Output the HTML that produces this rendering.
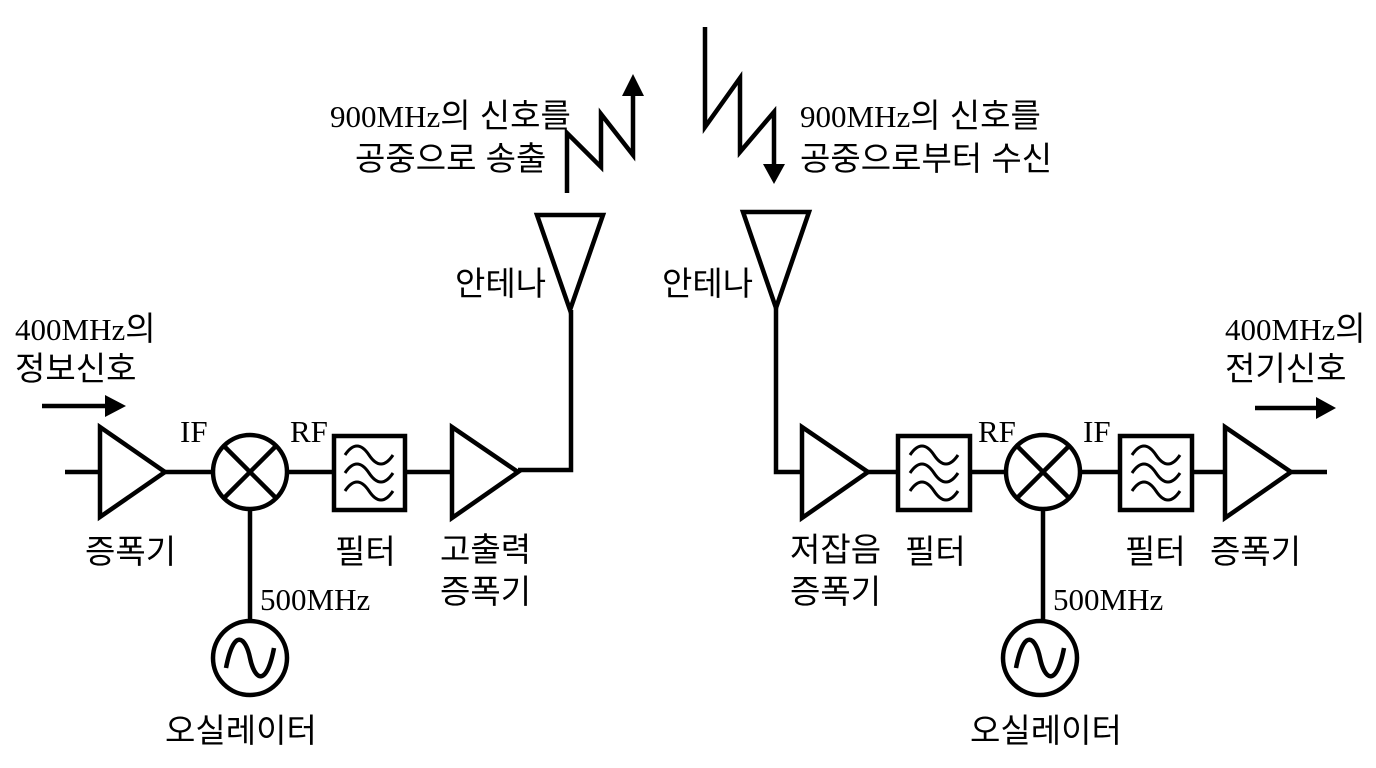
<!DOCTYPE html>
<html><head><meta charset="utf-8"><style>
html,body{margin:0;padding:0;background:#fff;}
svg{display:block}
.k{font-family:"Liberation Sans","Noto Sans CJK KR",sans-serif;font-size:33px;fill:#000}
.s{font-family:"Liberation Serif","Noto Sans CJK KR",serif;font-size:31px;fill:#000}
</style></head><body>
<svg width="1376" height="768" viewBox="0 0 1376 768" xmlns="http://www.w3.org/2000/svg">
<defs>
<g id="flt">
<path d="M-24,-16 q12,-18 24,0 t24,0 M-24,2 q12,-18 24,0 t24,0 M-24,20 q12,-18 24,0 t24,0" fill="none" stroke="#000" stroke-width="3"/>
</g>
</defs>
<g fill="none" stroke="#000" stroke-width="4.5">
<line x1="65" y1="472" x2="100" y2="472"/>
<polygon points="100,427 100,517 165,472" fill="#fff"/>
<line x1="165" y1="472" x2="213" y2="472"/>
<circle cx="250" cy="472" r="37"/>
<line x1="224" y1="446" x2="276" y2="498"/><line x1="276" y1="446" x2="224" y2="498"/>
<line x1="287" y1="472" x2="334" y2="472"/>
<rect x="334" y="436" width="71" height="74"/>
<line x1="405" y1="472" x2="452" y2="472"/>
<polygon points="452,427 452,518 518,472"/>
<polyline points="518,470 571,470 571,310"/>
<polygon points="537,215 603,215 570,310"/>
<line x1="250" y1="509" x2="250" y2="621"/>
<circle cx="250" cy="658" r="37"/>
<path d="M226,668 C234,626 246,638 250,658 C254,678 266,690 274,648"/>
<polygon points="743,212 809,212 776,308"/>
<polyline points="776,308 776,472 802,472"/>
<polygon points="802,427 802,518 868,472"/>
<line x1="868" y1="472" x2="898" y2="472"/>
<rect x="898" y="436" width="72" height="74"/>
<line x1="970" y1="472" x2="1006" y2="472"/>
<circle cx="1043" cy="472" r="37"/>
<line x1="1017" y1="446" x2="1069" y2="498"/><line x1="1069" y1="446" x2="1017" y2="498"/>
<line x1="1080" y1="472" x2="1120" y2="472"/>
<rect x="1120" y="436" width="72" height="74"/>
<line x1="1192" y1="472" x2="1225" y2="472"/>
<polygon points="1225,427 1225,518 1291,472"/>
<line x1="1291" y1="472" x2="1327" y2="472"/>
<line x1="1043" y1="509" x2="1043" y2="621"/>
<circle cx="1040" cy="658" r="37"/>
<path d="M1016,668 C1024,626 1036,638 1040,658 C1044,678 1056,690 1064,648"/>
<polyline points="567,193 567,133 601,167 601,114 633,155 633,92"/>
<polyline points="705,27 705,127 740,78 740,152 774,112 774,168"/>
<line x1="42" y1="406" x2="110" y2="406"/>
<line x1="1255" y1="408" x2="1322" y2="408"/>
</g>
<use href="#flt" x="369" y="471"/>
<use href="#flt" x="934" y="471"/>
<use href="#flt" x="1156" y="471"/>
<g fill="#000">
<polygon points="622,96 644,96 633,74"/>
<polygon points="763,164 785,164 774,184"/>
<polygon points="105,395 126,406 105,417"/>
<polygon points="1316,397 1336,408 1316,419"/>
</g>
<text class="s" x="330" y="127">900MHz<tspan class="k">의 신호를</tspan></text>
<text class="k" x="355" y="170">공중으로 송출</text>
<text class="s" x="800" y="127">900MHz<tspan class="k">의 신호를</tspan></text>
<text class="k" x="800" y="170">공중으로부터 수신</text>
<text class="k" x="455" y="295">안테나</text>
<text class="k" x="662" y="295">안테나</text>
<text class="s" x="15" y="340">400MHz<tspan class="k">의</tspan></text>
<text class="k" x="15" y="380">정보신호</text>
<text class="s" x="1225" y="340">400MHz<tspan class="k">의</tspan></text>
<text class="k" x="1225" y="380">전기신호</text>
<text class="s" x="180" y="442">IF</text>
<text class="s" x="290" y="442">RF</text>
<text class="s" x="978" y="442">RF</text>
<text class="s" x="1083" y="442">IF</text>
<text class="k" x="85" y="563">증폭기</text>
<text class="k" x="335" y="563">필터</text>
<text class="k" x="440" y="561">고출력</text>
<text class="k" x="440" y="603">증폭기</text>
<text class="s" x="260" y="610">500MHz</text>
<text class="k" x="165" y="742">오실레이터</text>
<text class="k" x="790" y="561">저잡음</text>
<text class="k" x="790" y="603">증폭기</text>
<text class="k" x="905" y="563">필터</text>
<text class="s" x="1053" y="610">500MHz</text>
<text class="k" x="1125" y="563">필터</text>
<text class="k" x="1210" y="563">증폭기</text>
<text class="k" x="970" y="742">오실레이터</text>
</svg>
</body></html>
